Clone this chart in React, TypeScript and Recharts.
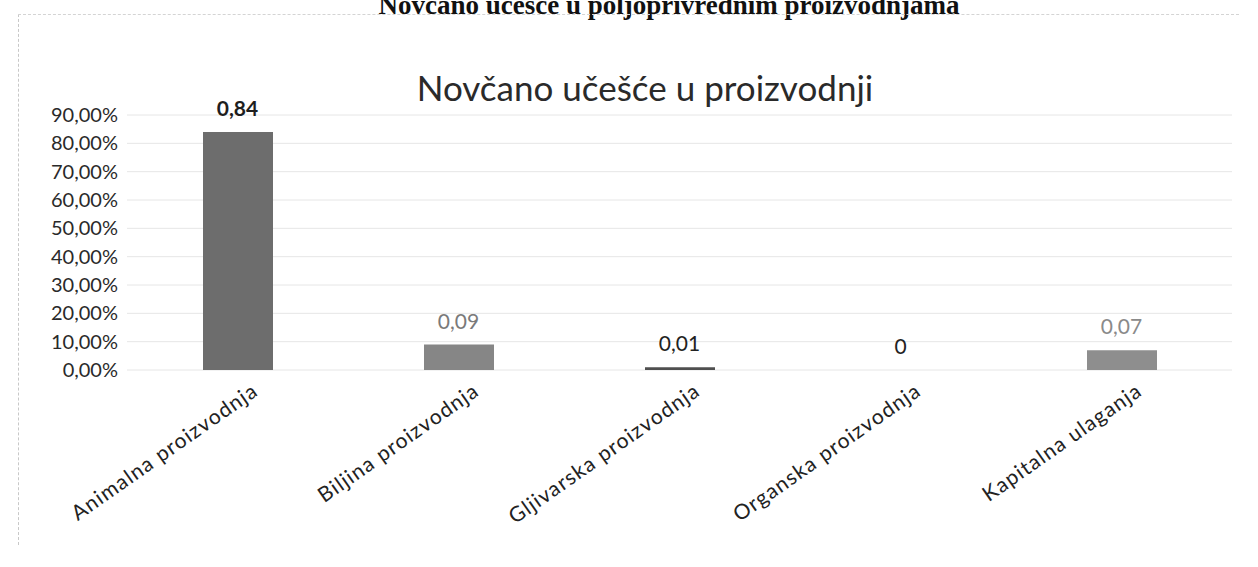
import { Bar, CartesianGrid, Cell, ComposedChart, LabelList, Line, XAxis, YAxis } from "recharts";

const categories = [
  "Animalna proizvodnja",
  "Biljina proizvodnja",
  "Gljivarska proizvodnja",
  "Organska proizvodnja",
  "Kapitalna ulaganja",
];
const shares = [0.84, 0.09, 0.01, 0, 0.07];
const yTicks = [0, 0.1, 0.2, 0.3, 0.4, 0.5, 0.6, 0.7, 0.8, 0.9];

const BAR_FILL = ["#6d6d6d", "#868686", "#4f4f4f", "#777777", "#8e8e8e"];
const LABEL_FILL = ["#1e1e1e", "#7a7a7a", "#222222", "#222222", "#8a8a8a"];

const rows = categories.map((name, i) => ({ name, value: shares[i] }));

const FONT = "Lato, 'Open Sans', sans-serif";

function pct(v: number) {
  return (v * 100).toFixed(2).replace(".", ",") + "%";
}

function CategoryTick({ x, y, payload }: any) {
  const ax = x + 22;
  const ay = y + 16;
  return (
    <text
      x={ax}
      y={ay}
      transform={`rotate(-35, ${ax}, ${ay})`}
      textAnchor="end"
      fontSize={21}
      letterSpacing={1.2}
      fill="#222"
      fontFamily={FONT}
    >
      {payload.value}
    </text>
  );
}

function ValueLabel({ x, y, index, value }: any) {
  return (
    <text
      x={x}
      y={y - 16}
      textAnchor="middle"
      fontSize={21}
      fontWeight={index === 0 ? 700 : 400}
      fill={LABEL_FILL[index]}
      fontFamily={FONT}
    >
      {String(value).replace(".", ",")}
    </text>
  );
}

export default function App() {
  return (
    <div
      style={{
        position: "absolute",
        left: 0,
        top: 0,
        width: 1258,
        height: 567,
        background: "#ffffff",
        overflow: "hidden",
        fontFamily: FONT,
      }}
    >
      <div
        style={{
          position: "absolute",
          left: 0,
          width: 1258,
          top: -10,
          textAlign: "center",
          fontFamily: "'Liberation Serif', serif",
          fontWeight: 700,
          fontSize: 27,
          color: "#111",
          paddingLeft: 40,
        }}
      >
        Novčano učešće u poljoprivrednim proizvodnjama
      </div>
      <div
        style={{
          position: "absolute",
          left: 18,
          top: 14,
          width: 1220,
          height: 530,
          borderTop: "1px dashed #d4d4d4",
          borderLeft: "1px dashed #c8c8c8",
        }}
      />
      <div
        style={{
          position: "absolute",
          left: 0,
          width: 1290,
          top: 66,
          textAlign: "center",
          fontSize: 35,
          color: "#2a2a2a",
        }}
      >
        Novčano učešće u proizvodnji
      </div>
      <div style={{ position: "absolute", left: 0, top: 0 }}>
        <ComposedChart
          width={1258}
          height={567}
          data={rows}
          margin={{ top: 115, right: 26, bottom: 0, left: 0 }}
        >
          <CartesianGrid vertical={false} stroke="#e6e6e6" />
          <XAxis
            dataKey="name"
            interval={0}
            height={197}
            tickLine={false}
            axisLine={false}
            tick={<CategoryTick />}
          />
          <YAxis
            width={127}
            domain={[0, 0.9]}
            ticks={yTicks}
            tickFormatter={pct}
            tickLine={false}
            axisLine={false}
            tickSize={0}
            tickMargin={9}
            tick={{ fontSize: 20, fill: "#2a2a2a", fontFamily: FONT }}
          />
          <Bar dataKey="value" barSize={70} isAnimationActive={false}>
            {rows.map((r, i) => (
              <Cell key={r.name} fill={BAR_FILL[i]} />
            ))}
          </Bar>
          <Line
            dataKey="value"
            stroke="none"
            dot={false}
            activeDot={false}
            isAnimationActive={false}
            legendType="none"
          >
            <LabelList dataKey="value" content={<ValueLabel />} />
          </Line>
        </ComposedChart>
      </div>
    </div>
  );
}
